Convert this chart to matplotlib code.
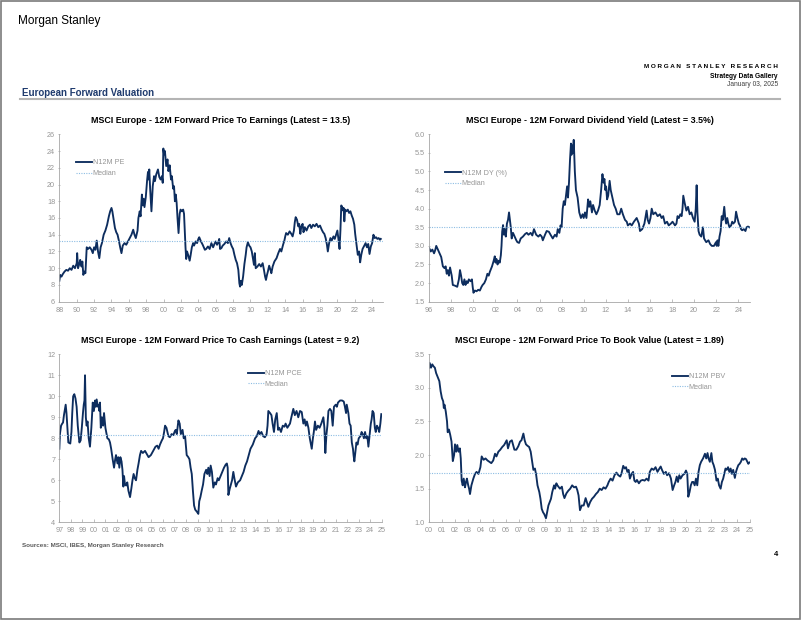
import matplotlib
matplotlib.use("Agg")
import matplotlib.pyplot as plt
from matplotlib.patches import Rectangle
from matplotlib.lines import Line2D

plt.rcParams['font.family'] = ['Liberation Sans', 'DejaVu Sans']

# --- data (decimal year, value) ---
pe_t = [1988.0, 1988.1, 1988.25, 1988.4, 1988.6, 1988.8, 1989.0, 1989.2, 1989.4, 1989.6, 1989.8,
        1990.0, 1990.05, 1990.15, 1990.3, 1990.4, 1990.55, 1990.65, 1990.76, 1990.9, 1991.0,
        1991.15, 1991.3, 1991.5, 1991.7, 1991.85, 1992.0, 1992.15, 1992.3, 1992.45, 1992.6,
        1992.75, 1992.9, 1993.1, 1993.3, 1993.5, 1993.7, 1993.85, 1994.0, 1994.1, 1994.25,
        1994.4, 1994.55, 1994.7, 1994.85, 1995.0, 1995.15, 1995.3, 1995.5, 1995.7, 1995.9,
        1996.1, 1996.3, 1996.5, 1996.65, 1996.8, 1997.0, 1997.1, 1997.25, 1997.35, 1997.5,
        1997.6, 1997.7, 1997.8, 1997.95, 1998.1, 1998.2, 1998.28, 1998.35, 1998.45, 1998.6,
        1998.75, 1998.9, 1999.0, 1999.15, 1999.35, 1999.5, 1999.65, 1999.8, 1999.9, 1999.97,
        2000.05, 2000.15, 2000.3, 2000.45, 2000.55, 2000.7, 2000.85, 2000.95, 2001.1, 2001.2,
        2001.3, 2001.4, 2001.5, 2001.6, 2001.72, 2001.85, 2001.95, 2002.1, 2002.25, 2002.35,
        2002.45, 2002.52, 2002.6, 2002.7, 2002.85, 2003.0, 2003.1, 2003.25, 2003.4, 2003.5,
        2003.7, 2003.85, 2004.0, 2004.1, 2004.3, 2004.5, 2004.75, 2004.9, 2005.1, 2005.3,
        2005.5, 2005.7, 2005.85, 2006.0, 2006.15, 2006.3, 2006.4, 2006.5, 2006.65, 2006.8,
        2007.0, 2007.2, 2007.4, 2007.55, 2007.7, 2007.85, 2008.0, 2008.15, 2008.3, 2008.45,
        2008.6, 2008.72, 2008.8, 2008.9, 2009.0, 2009.15, 2009.3, 2009.45, 2009.55, 2009.7,
        2009.85, 2010.0, 2010.15, 2010.3, 2010.4, 2010.5, 2010.6, 2010.8, 2011.0, 2011.2,
        2011.4, 2011.55, 2011.68, 2011.78, 2011.9, 2012.0, 2012.15, 2012.3, 2012.4, 2012.55,
        2012.75, 2013.0, 2013.2, 2013.4, 2013.55, 2013.75, 2013.9, 2014.0, 2014.1, 2014.3,
        2014.5, 2014.7, 2014.85, 2015.0, 2015.1, 2015.2, 2015.35, 2015.5, 2015.6, 2015.74,
        2015.85, 2016.0, 2016.1, 2016.25, 2016.45, 2016.65, 2016.85, 2017.0, 2017.2, 2017.4,
        2017.6, 2017.8, 2018.0, 2018.2, 2018.35, 2018.5, 2018.65, 2018.8, 2018.9, 2019.05,
        2019.2, 2019.35, 2019.55, 2019.7, 2019.85, 2020.0, 2020.12, 2020.25, 2020.35, 2020.45,
        2020.55, 2020.65, 2020.72, 2020.8, 2020.9, 2021.05, 2021.2, 2021.35, 2021.5, 2021.65,
        2021.8, 2021.95, 2022.05, 2022.2, 2022.35, 2022.5, 2022.62, 2022.75, 2022.9, 2023.05,
        2023.25, 2023.4, 2023.55, 2023.7, 2023.85, 2024.0, 2024.15, 2024.3, 2024.45, 2024.6,
        2024.75, 2024.9, 2025.0]
pe_v = [8.5, 9.2, 9.0, 9.3, 9.6, 9.8, 9.7, 10.0, 9.8, 10.3, 10.0,
        10.6, 11.8, 10.0, 10.5, 11.0, 10.2, 10.8, 9.2, 9.6, 9.4,
        12.5, 12.3, 12.5, 12.2, 11.8, 12.5, 12.2, 13.3, 12.0, 11.2,
        12.5, 13.0, 14.0, 14.5, 15.2, 16.2, 16.8, 17.2, 16.8, 15.8,
        14.8, 14.3, 14.0, 13.3, 12.5, 11.8, 12.7, 13.0, 12.8, 13.2,
        13.6, 14.0, 14.6, 14.0, 13.6, 14.5, 16.0, 16.8, 16.2, 18.8,
        17.5, 18.3, 17.3, 18.5, 20.5, 21.5, 20.6, 21.8, 19.5, 16.8,
        19.8, 21.0, 20.4, 21.2, 21.8, 20.9, 20.6, 21.0, 20.2, 24.3,
        23.6, 24.0, 22.2, 23.0, 21.6, 22.3, 20.6, 21.0, 19.5, 19.8,
        18.0, 18.8, 17.8, 16.0, 14.2, 16.5, 17.0, 16.8, 17.0, 16.5,
        14.0, 12.5, 11.1, 12.0, 11.5, 10.9, 11.5, 12.5, 13.0, 12.7,
        13.2, 13.0, 13.5, 13.7, 13.2, 12.8, 12.2, 12.3, 12.6, 12.3,
        13.0, 12.5, 12.9, 13.2, 12.8, 13.1, 13.5, 12.3, 12.4, 12.7,
        12.9, 13.2, 13.0, 13.6, 13.0, 12.6, 12.3, 11.6, 11.0, 10.6,
        9.8, 8.2, 7.8, 8.5, 8.0, 9.0, 10.5, 11.6, 12.5, 13.1,
        12.7, 12.5, 12.0, 11.0, 10.4, 11.8, 10.0, 10.2, 10.5, 10.2,
        10.6, 9.8, 9.0, 8.6, 9.2, 9.6, 10.3, 9.8, 9.4, 10.2,
        10.8, 11.2, 11.8, 12.3, 12.0, 12.8, 13.3, 13.8, 14.2, 14.0,
        14.4, 14.1, 13.8, 14.5, 15.5, 16.1, 15.8, 15.0, 15.3, 14.1,
        15.0, 15.3, 14.3, 14.9, 14.5, 15.0, 15.2, 14.8, 15.2, 15.0,
        15.3, 14.9, 15.1, 14.6, 14.3, 14.1, 13.6, 12.8, 12.0, 13.0,
        13.6, 13.3, 13.8, 13.5, 14.0, 14.5, 13.5, 12.3, 14.5, 17.5,
        17.3, 16.9, 17.2, 15.6, 17.0, 16.8, 17.0, 16.6, 16.8, 16.3,
        15.9, 15.2, 14.1, 12.8, 11.6, 12.0, 10.7, 11.6, 12.3, 12.6,
        13.0, 12.5, 12.9, 11.7, 12.6, 13.0, 14.0, 13.6, 13.7, 13.5,
        13.6, 13.4, 13.5]
pe_median = 13.3

dy_t = [1996.0, 1996.15, 1996.3, 1996.45, 1996.55, 1996.65, 1996.8, 1996.95, 1997.1, 1997.25,
        1997.4, 1997.5, 1997.6, 1997.7, 1997.8, 1997.9, 1998.05, 1998.15, 1998.35, 1998.55,
        1998.7, 1998.8, 1998.9, 1999.0, 1999.1, 1999.2, 1999.3, 1999.4, 1999.5, 1999.6,
        1999.75, 1999.88, 1999.95, 2000.02, 2000.15, 2000.3, 2000.45, 2000.6, 2000.75, 2000.85,
        2001.0, 2001.15, 2001.28, 2001.4, 2001.5, 2001.7, 2001.85, 2001.95, 2002.02, 2002.1,
        2002.2, 2002.3, 2002.4, 2002.5, 2002.56, 2002.62, 2002.7, 2002.78, 2002.85, 2002.95,
        2003.05, 2003.15, 2003.24, 2003.32, 2003.4, 2003.48, 2003.6, 2003.75, 2003.9, 2004.0,
        2004.15, 2004.3, 2004.5, 2004.7, 2004.85, 2005.0, 2005.2, 2005.35, 2005.5, 2005.7,
        2005.9, 2006.05, 2006.2, 2006.3, 2006.5, 2006.65, 2006.85, 2007.0, 2007.2, 2007.4,
        2007.55, 2007.65, 2007.8, 2007.9, 2008.0, 2008.1, 2008.2, 2008.3, 2008.42, 2008.5,
        2008.58, 2008.67, 2008.76, 2008.85, 2008.9, 2008.96, 2009.02, 2009.1, 2009.2, 2009.3,
        2009.45, 2009.6, 2009.75, 2009.9, 2010.0, 2010.12, 2010.25, 2010.4, 2010.5, 2010.6,
        2010.75, 2010.85, 2011.0, 2011.15, 2011.3, 2011.45, 2011.58, 2011.7, 2011.8, 2011.88,
        2011.96, 2012.03, 2012.12, 2012.22, 2012.35, 2012.45, 2012.6, 2012.75, 2012.9, 2013.05,
        2013.25, 2013.4, 2013.55, 2013.74, 2013.9, 2014.0, 2014.2, 2014.35, 2014.55, 2014.8,
        2015.0, 2015.1, 2015.3, 2015.5, 2015.7, 2015.8, 2015.92, 2016.05, 2016.16, 2016.3,
        2016.5, 2016.7, 2016.9, 2017.06, 2017.2, 2017.36, 2017.55, 2017.7, 2017.9, 2018.05,
        2018.27, 2018.4, 2018.5, 2018.62, 2018.75, 2018.87, 2018.95, 2019.02, 2019.15, 2019.3,
        2019.45, 2019.6, 2019.75, 2019.9, 2020.05, 2020.15, 2020.23, 2020.3, 2020.4, 2020.5,
        2020.65, 2020.8, 2020.9, 2021.0, 2021.1, 2021.3, 2021.45, 2021.6, 2021.8, 2021.98,
        2022.05, 2022.12, 2022.2, 2022.3, 2022.4, 2022.5, 2022.6, 2022.73, 2022.82, 2022.9,
        2023.0, 2023.1, 2023.2, 2023.35, 2023.45, 2023.55, 2023.7, 2023.8, 2023.92, 2024.05,
        2024.15, 2024.25, 2024.35, 2024.5, 2024.65, 2024.75, 2024.88, 2025.0]
dy_v = [2.95, 2.85, 2.9, 2.8, 2.88, 3.0, 2.9, 2.8, 2.7, 2.45,
        2.4, 2.45, 2.25, 2.35, 2.2, 2.42, 2.2, 1.95, 1.93, 1.9,
        2.1, 2.35, 2.2, 2.0, 1.95, 2.1, 1.95, 2.05, 2.0, 2.1,
        2.05, 2.1, 1.9, 1.74, 1.8, 1.78, 1.82, 1.8, 1.9, 1.95,
        2.0, 2.1, 2.25, 2.2, 2.3, 2.45, 2.6, 2.72, 2.55, 2.65,
        2.5, 2.6, 2.55, 2.75, 3.0, 3.38, 3.56, 3.3, 3.45, 3.25,
        3.6, 3.7, 3.9, 3.7, 3.5, 3.2, 3.35, 3.25, 3.15, 3.1,
        3.08, 3.2, 3.25, 3.32, 3.35, 3.3, 3.35, 3.28, 3.45, 3.3,
        3.25, 3.3, 3.25, 3.15, 3.3, 3.4, 3.38, 3.3, 3.2, 3.3,
        3.25, 3.45, 3.35, 3.55, 3.5, 4.0, 4.2, 4.1, 4.4, 4.6,
        4.3, 4.7, 5.3, 5.75, 5.45, 5.7, 5.5, 5.85, 5.0, 4.5,
        4.3, 3.9, 3.75, 3.85, 3.75, 3.9, 3.75, 4.25, 4.05, 4.2,
        3.9, 4.1, 3.95, 3.85, 3.95, 4.1, 4.5, 4.93, 4.7, 4.8,
        4.5, 4.6, 4.25, 4.35, 4.75, 4.5, 4.3, 4.1, 4.0, 3.85,
        3.85, 4.0, 3.85, 3.7, 3.65, 3.55, 3.6, 3.55, 3.65, 3.75,
        3.6, 3.4, 3.45, 3.6, 3.95, 3.7, 3.6, 3.75, 4.0, 3.85,
        3.9, 3.8, 3.85, 3.75, 3.8, 3.6, 3.65, 3.55, 3.6, 3.65,
        3.55, 3.6, 3.8, 3.75, 3.85, 3.8, 4.0, 4.35, 4.15, 3.95,
        4.05, 3.85, 3.9, 3.75, 3.65, 4.0, 4.63, 3.9, 3.4, 3.3,
        3.25, 3.5, 3.2, 3.15, 3.1, 3.15, 3.05, 3.0, 3.0, 3.1,
        3.0, 3.15, 3.0, 3.25, 3.4, 3.8, 3.7, 4.05, 3.75, 3.6,
        3.75, 3.6, 3.5, 3.55, 3.65, 3.6, 3.65, 3.92, 3.75, 3.6,
        3.55, 3.45, 3.42, 3.45, 3.4, 3.5, 3.52, 3.5]
dy_median = 3.5

pce_t = [1997.0, 1997.05, 1997.15, 1997.25, 1997.32, 1997.4, 1997.55, 1997.62, 1997.7, 1997.78,
         1997.95, 1998.05, 1998.12, 1998.2, 1998.3, 1998.4, 1998.5, 1998.6, 1998.74, 1998.85,
         1998.95, 1999.05, 1999.12, 1999.18, 1999.23, 1999.3, 1999.37, 1999.45, 1999.55, 1999.66,
         1999.78, 1999.9, 2000.0, 2000.1, 2000.17, 2000.24, 2000.35, 2000.42, 2000.48, 2000.53,
         2000.6, 2000.7, 2000.8, 2000.88, 2001.0, 2001.17, 2001.3, 2001.4, 2001.5, 2001.63,
         2001.75, 2001.85, 2001.92, 2002.05, 2002.12, 2002.21, 2002.3, 2002.4, 2002.48, 2002.56,
         2002.62, 2002.7, 2002.8, 2002.9, 2003.0, 2003.14, 2003.25, 2003.35, 2003.45, 2003.55,
         2003.66, 2003.78, 2003.88, 2004.0, 2004.1, 2004.25, 2004.35, 2004.44, 2004.6, 2004.75,
         2004.95, 2005.15, 2005.35, 2005.5, 2005.62, 2005.74, 2005.9, 2006.0, 2006.1, 2006.18,
         2006.3, 2006.47, 2006.6, 2006.75, 2006.9, 2007.0, 2007.1, 2007.2, 2007.34, 2007.45,
         2007.55, 2007.7, 2007.8, 2007.92, 2008.06, 2008.2, 2008.3, 2008.4, 2008.5, 2008.6,
         2008.7, 2008.8, 2008.95, 2009.07, 2009.15, 2009.25, 2009.36, 2009.48, 2009.6, 2009.75,
         2009.85, 2009.94, 2010.05, 2010.14, 2010.25, 2010.37, 2010.5, 2010.6, 2010.75, 2010.85,
         2011.0, 2011.15, 2011.3, 2011.45, 2011.55, 2011.62, 2011.68, 2011.8, 2011.9, 2012.0,
         2012.11, 2012.2, 2012.34, 2012.5, 2012.7, 2012.85, 2013.0, 2013.15, 2013.3, 2013.45,
         2013.6, 2013.8, 2014.0, 2014.15, 2014.3, 2014.4, 2014.55, 2014.7, 2014.85, 2015.0,
         2015.08, 2015.15, 2015.3, 2015.42, 2015.52, 2015.64, 2015.75, 2015.88, 2016.0, 2016.1,
         2016.25, 2016.4, 2016.55, 2016.65, 2016.8, 2017.03, 2017.15, 2017.32, 2017.45, 2017.6,
         2017.75, 2017.9, 2018.05, 2018.19, 2018.3, 2018.4, 2018.5, 2018.63, 2018.75, 2018.92,
         2019.02, 2019.1, 2019.2, 2019.3, 2019.45, 2019.6, 2019.75, 2019.93, 2020.02, 2020.1,
         2020.2, 2020.28, 2020.37, 2020.5, 2020.62, 2020.74, 2020.85, 2021.0, 2021.1, 2021.2,
         2021.38, 2021.55, 2021.7, 2021.8, 2021.9, 2021.96, 2022.1, 2022.2, 2022.3, 2022.4,
         2022.5, 2022.55, 2022.62, 2022.7, 2022.8, 2022.9, 2023.0, 2023.15, 2023.25, 2023.35,
         2023.45, 2023.55, 2023.65, 2023.75, 2023.84, 2023.95, 2024.05, 2024.12, 2024.2, 2024.3,
         2024.4, 2024.48, 2024.58, 2024.68, 2024.78, 2024.88, 2024.96]
pce_v = [7.5, 8.2, 8.6, 8.7, 8.75, 9.1, 9.6, 9.2, 8.5, 7.8,
         7.75, 8.3, 9.2, 10.0, 10.1, 9.9, 9.5, 8.6, 7.8, 7.9,
         8.5, 9.2, 9.6, 9.8, 11.0, 9.0, 8.6, 8.8, 8.0, 7.6,
         8.5, 9.7, 9.3, 9.8, 9.5, 9.85, 9.5, 9.6, 9.3, 9.7,
         8.5, 9.0, 8.6, 9.2, 8.5, 8.0, 7.95, 7.8, 7.5, 7.0,
         6.6, 7.0, 7.2, 6.8, 7.1, 6.6, 7.1, 6.9, 6.5, 5.7,
         6.2, 5.8, 5.75, 5.9, 5.5, 5.2, 5.6, 6.0, 6.3, 6.1,
         6.0, 6.5, 6.8, 7.2, 7.4, 7.3, 7.35, 7.4, 7.25, 7.1,
         7.2, 7.4, 7.6, 7.65, 7.5, 7.7, 7.9, 8.0, 8.3, 8.6,
         8.5, 8.1, 8.05, 8.2, 8.15, 8.3, 8.4, 8.2, 8.85, 8.7,
         8.2, 8.4, 8.0, 8.1, 7.2, 7.1, 7.0, 6.6, 6.3, 5.5,
         4.8, 4.6, 4.5, 4.4, 5.0, 5.2, 5.5, 5.8, 6.3, 6.5,
         6.3, 6.6, 6.2, 6.7, 6.4, 5.65, 5.9, 5.8, 6.1, 6.0,
         6.2, 6.4, 6.6, 6.75, 6.8, 6.6, 5.3, 5.6, 5.8, 6.0,
         6.4, 6.1, 5.7, 5.9, 6.0, 6.2, 6.4, 6.7, 6.9, 7.2,
         7.5, 7.7, 8.0, 8.1, 8.35, 8.2, 8.3, 8.1, 8.05, 8.2,
         8.6, 9.3, 9.2, 9.1, 8.7, 8.3, 8.9, 9.2, 8.4, 8.5,
         8.3, 8.6, 8.55, 8.7, 8.5, 8.7, 9.0, 9.4, 9.1, 9.3,
         9.0, 9.3, 9.25, 8.7, 8.9, 8.6, 8.8, 8.5, 8.0, 7.5,
         8.0, 8.3, 8.8, 8.4, 8.6, 8.5, 8.7, 9.0, 8.5, 7.3,
         8.2, 8.6, 9.3, 9.4, 9.3, 8.6, 9.5, 9.6, 9.5, 9.7,
         9.8, 9.8, 9.75, 9.5, 9.2, 9.6, 9.2, 8.7, 8.6, 7.8,
         7.5, 7.2, 6.9, 7.3, 7.8, 7.7, 8.0, 8.1, 8.3, 8.2,
         8.0, 8.3, 8.0, 8.1, 7.6, 8.2, 8.7, 8.9, 9.3, 9.2,
         8.5, 8.3, 8.6, 8.5, 8.3, 8.7, 9.15]
pce_median = 8.15

pbv_t = [2000.0, 2000.05, 2000.15, 2000.25, 2000.35, 2000.45, 2000.55, 2000.7, 2000.8, 2000.9,
         2001.0, 2001.1, 2001.15, 2001.2, 2001.3, 2001.4, 2001.45, 2001.55, 2001.65, 2001.75,
         2001.85, 2001.95, 2002.02, 2002.12, 2002.2, 2002.3, 2002.4, 2002.47, 2002.54, 2002.62,
         2002.7, 2002.8, 2002.88, 2002.95, 2003.05, 2003.12, 2003.19, 2003.3, 2003.45, 2003.58,
         2003.7, 2003.85, 2004.0, 2004.1, 2004.25, 2004.4, 2004.55, 2004.7, 2004.85, 2005.0,
         2005.14, 2005.25, 2005.4, 2005.55, 2005.7, 2005.85, 2006.05, 2006.15, 2006.3, 2006.45,
         2006.55, 2006.65, 2006.8, 2006.95, 2007.09, 2007.2, 2007.35, 2007.45, 2007.55, 2007.66,
         2007.8, 2007.92, 2008.0, 2008.13, 2008.25, 2008.35, 2008.45, 2008.59, 2008.68, 2008.78,
         2008.88, 2008.98, 2009.11, 2009.2, 2009.3, 2009.4, 2009.5, 2009.6, 2009.74, 2009.82,
         2009.92, 2010.0, 2010.2, 2010.35, 2010.45, 2010.55, 2010.7, 2010.85, 2011.0, 2011.15,
         2011.3, 2011.45, 2011.55, 2011.65, 2011.76, 2011.9, 2012.05, 2012.2, 2012.3, 2012.41,
         2012.55, 2012.7, 2012.85, 2013.0, 2013.15, 2013.3, 2013.45, 2013.6, 2013.75, 2013.9,
         2014.0, 2014.15, 2014.3, 2014.45, 2014.6, 2014.75, 2014.9, 2015.0, 2015.13, 2015.25,
         2015.35, 2015.45, 2015.55, 2015.65, 2015.78, 2015.9, 2016.0, 2016.1, 2016.2, 2016.35,
         2016.5, 2016.65, 2016.8, 2016.95, 2017.1, 2017.2, 2017.35, 2017.5, 2017.65, 2017.8,
         2017.95, 2018.05, 2018.15, 2018.3, 2018.45, 2018.55, 2018.7, 2018.85, 2018.98, 2019.1,
         2019.2, 2019.3, 2019.4, 2019.5, 2019.6, 2019.75, 2019.9, 2020.02, 2020.12, 2020.2,
         2020.3, 2020.4, 2020.5, 2020.6, 2020.7, 2020.8, 2020.9, 2021.0, 2021.1, 2021.2,
         2021.35, 2021.5, 2021.6, 2021.7, 2021.78, 2021.88, 2022.0, 2022.08, 2022.18, 2022.28,
         2022.4, 2022.5, 2022.6, 2022.72, 2022.82, 2022.92, 2023.0, 2023.1, 2023.2, 2023.3,
         2023.4, 2023.5, 2023.6, 2023.7, 2023.83, 2023.92, 2024.0, 2024.1, 2024.2, 2024.3,
         2024.4, 2024.5, 2024.6, 2024.7, 2024.8, 2024.88, 2024.96]
pbv_v = [3.3, 3.37, 3.3, 3.35, 3.32, 3.3, 3.22, 3.15, 3.1, 2.95,
         2.85, 2.8, 2.7, 2.75, 2.65, 2.5, 2.34, 2.38, 2.3, 2.2,
         1.91, 2.0, 2.16, 2.05, 2.15, 2.05, 2.1, 1.95, 1.62, 1.55,
         1.65, 1.52, 1.6, 1.65, 1.55, 1.5, 1.42, 1.55, 1.65, 1.72,
         1.75, 1.72, 1.82, 1.98, 1.93, 1.95, 1.92, 1.9, 1.88, 1.92,
         2.02, 1.98, 2.05, 2.08, 2.12, 2.15, 2.22, 2.1, 2.2, 2.22,
         2.15, 2.08, 2.08, 2.13, 2.2, 2.22, 2.32, 2.22, 2.16, 2.14,
         2.12, 2.05, 1.95, 1.78, 1.8, 1.7, 1.55, 1.45, 1.35, 1.2,
         1.15, 1.12, 1.06, 1.15, 1.25, 1.3, 1.35, 1.45, 1.55, 1.5,
         1.58, 1.55, 1.5, 1.53, 1.42, 1.36, 1.43, 1.47, 1.5, 1.55,
         1.52, 1.53, 1.48, 1.4, 1.18, 1.25, 1.25, 1.36, 1.3, 1.23,
         1.3, 1.35, 1.38, 1.42, 1.45, 1.5, 1.48, 1.52, 1.5, 1.55,
         1.6, 1.65, 1.62, 1.7, 1.74, 1.7, 1.68, 1.73, 1.84, 1.8,
         1.82, 1.75, 1.78, 1.65, 1.72, 1.75, 1.62, 1.6, 1.63, 1.58,
         1.62, 1.63, 1.62, 1.65, 1.62, 1.75, 1.8, 1.78, 1.82, 1.75,
         1.8, 1.83, 1.78, 1.72, 1.75, 1.7, 1.73, 1.65, 1.48, 1.55,
         1.6, 1.68, 1.6, 1.7, 1.65, 1.7, 1.72, 1.77, 1.72, 1.38,
         1.45, 1.55, 1.6, 1.6, 1.55, 1.65, 1.55, 1.75, 1.85, 1.9,
         1.95, 2.02, 1.95, 2.03, 1.95, 1.9, 2.03, 1.9, 1.85, 1.78,
         1.62, 1.65, 1.55, 1.5, 1.6, 1.65, 1.72, 1.8, 1.78, 1.82,
         1.75, 1.8, 1.72, 1.78, 1.66, 1.75, 1.8, 1.85, 1.87, 1.9,
         1.95, 1.93, 1.95, 1.94, 1.9, 1.87, 1.89]
pbv_median = 1.74

NAVY = '#0D2D5E'
MEDIAN_C = '#8DBDE3'
TICK_C = '#969696'
SPINE_C = '#A6A6A6'


def panel(rect, t, v, median, title, label, ylim, yticks, yfmt, xticks, xlim, leg_xy):
    ax = fig.add_axes(rect)
    ax.plot(t, v, color=NAVY, lw=1.35, label=label)
    ax.axhline(median, color=MEDIAN_C, lw=0.8, ls=(0, (1, 1.2)), label='Median')
    ax.set_ylim(ylim)
    ax.set_xlim(xlim)
    ax.set_yticks(yticks)
    ax.set_yticklabels([yfmt.format(y) for y in yticks])
    ax.set_xticks(xticks)
    ax.set_xticklabels(['%02d' % (x % 100) for x in xticks])
    for s in ['top', 'right']:
        ax.spines[s].set_visible(False)
    for s in ['left', 'bottom']:
        ax.spines[s].set_color(SPINE_C)
        ax.spines[s].set_linewidth(0.6)
    ax.tick_params(labelsize=5.2, colors=SPINE_C, labelcolor=TICK_C, length=2, width=0.5)
    ax.tick_params(axis='y', direction='inout', pad=2)
    ax.tick_params(axis='x', direction='in', pad=3.5)
    ax.set_title(title, fontsize=6.4, fontweight='bold', pad=8)
    ax.legend(loc='upper left', bbox_to_anchor=leg_xy, frameon=False, fontsize=5.2,
              handlelength=2.2, handletextpad=0.1, labelspacing=0.5, borderpad=0,
              borderaxespad=0, labelcolor=TICK_C)
    return ax


fig = plt.figure(figsize=(8.02, 6.2), dpi=100)

# page header
fig.text(18 / 802, 1 - 21 / 620, 'Morgan Stanley', fontsize=8.5, va='center', ha='left')
fig.text(778 / 802, 1 - 66 / 620, 'M O R G A N   S T A N L E Y   R E S E A R C H',
         fontsize=4.6, fontweight='bold', ha='right', va='center')
fig.text(778 / 802, 1 - 76 / 620, 'Strategy Data Gallery', fontsize=4.8,
         fontweight='bold', ha='right', va='center')
fig.text(778 / 802, 1 - 85 / 620, 'January 03, 2025', fontsize=4.8, ha='right', va='center',
         color='#404040')
fig.text(22 / 802, 1 - 93 / 620, 'European Forward Valuation', fontsize=7, fontweight='bold',
         color='#1F3B6E', ha='left', va='center')
fig.add_artist(Line2D([20 / 802, 780 / 802], [1 - 98.5 / 620] * 2, color='#B4B4B4', lw=1.5))
fig.add_artist(Rectangle((0.0008, 0.0012), 0.997, 0.997, transform=fig.transFigure,
                         fill=False, ec='#7A7A7A', lw=1.2))

panel([0.074, 0.5134, 0.403, 0.270], pe_t, pe_v, pe_median,
      'MSCI Europe - 12M Forward Price To Earnings (Latest = 13.5)', 'N12M PE',
      (6, 26), list(range(6, 27, 2)), '{:d}', list(range(1988, 2025, 2)), (1988, 2025.2),
      (0.052, 0.85))
panel([0.535, 0.5134, 0.400, 0.270], dy_t, dy_v, dy_median,
      'MSCI Europe - 12M Forward Dividend Yield (Latest = 3.5%)', 'N12M DY (%)',
      (1.5, 6.0), [1.5, 2.0, 2.5, 3.0, 3.5, 4.0, 4.5, 5.0, 5.5, 6.0], '{:.1f}',
      list(range(1996, 2025, 2)), (1996, 2025.05), (0.05, 0.79))
panel([0.074, 0.1576, 0.402, 0.271], pce_t, pce_v, pce_median,
      'MSCI Europe - 12M Forward Price To Cash Earnings (Latest = 9.2)', 'N12M PCE',
      (4, 12), list(range(4, 13)), '{:d}', list(range(1997, 2026)), (1997, 2025),
      (0.585, 0.905))
panel([0.535, 0.1576, 0.400, 0.271], pbv_t, pbv_v, pbv_median,
      'MSCI Europe - 12M Forward Price To Book Value (Latest = 1.89)', 'N12M PBV',
      (1.0, 3.5), [1.0, 1.5, 2.0, 2.5, 3.0, 3.5], '{:.1f}', list(range(2000, 2026)),
      (2000, 2025), (0.757, 0.887))

fig.text(22 / 802, 1 - 545 / 620, 'Sources: MSCI, IBES, Morgan Stanley Research', fontsize=4.5,
         fontweight='bold', color='#595959', ha='left', va='center')
fig.text(778 / 802, 1 - 555 / 620, '4', fontsize=5.5, fontweight='bold', ha='right', va='center')

fig.savefig('out.png', dpi=100)
